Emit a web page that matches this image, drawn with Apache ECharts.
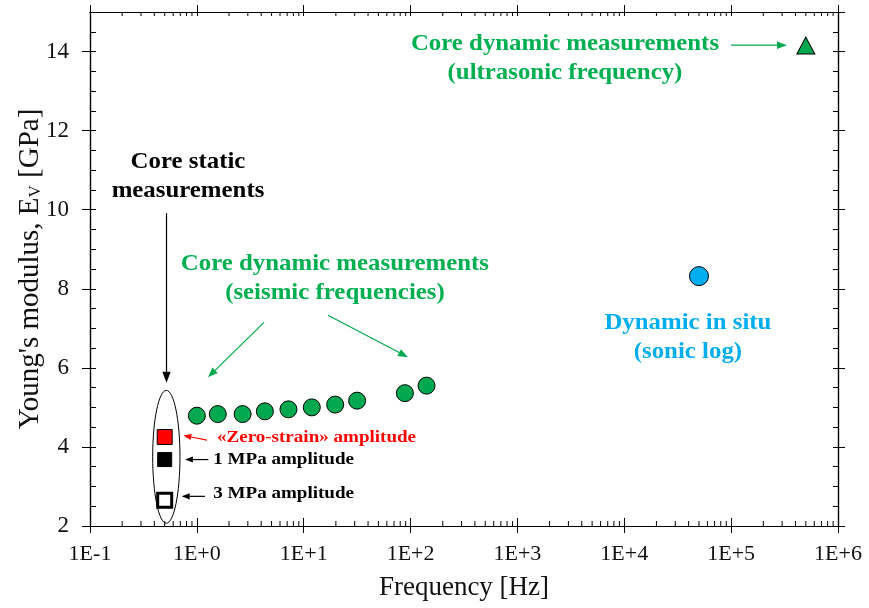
<!DOCTYPE html>
<html><head><meta charset="utf-8">
<script src="https://cdn.jsdelivr.net/npm/echarts@6/dist/echarts.min.js"></script>
<style>html,body{margin:0;padding:0;background:#fff}#c{width:869px;height:608px}</style>
</head><body><div id="c"></div>
<script>
// ---- data ----
const xTickExp = [-1, 0, 1, 2, 3, 4, 5, 6];
const xTickLabels = ['1E-1', '1E+0', '1E+1', '1E+2', '1E+3', '1E+4', '1E+5', '1E+6'];
const yTicks = [2, 4, 6, 8, 10, 12, 14];
const seismicFreq = [1.0, 1.57, 2.68, 4.33, 7.2, 11.9, 19.7, 31.6, 88.5, 141];
const seismicE = [4.79, 4.83, 4.83, 4.90, 4.95, 5.00, 5.07, 5.17, 5.36, 5.55];
const staticFreq = [0.5];
const zeroStrainE = [4.25];
const oneMPaE = [3.68];
const threeMPaE = [2.65];
const sonicFreq = [50000];
const sonicE = [8.32];
const ultraFreq = [500000];
const ultraE = [14.15];

const X_MIN = 0.1, X_MAX = 1e6, Y_MIN = 2, Y_MAX = 15;
const FONT = '"Liberation Serif","Times New Roman",serif';
const GREEN = '#00a84f', GREEN_T = '#00b050', BLUE = '#00aeef', RED = '#ff0000';

// minor tick values for log axis (2..9 per decade)
const minorX = [];
for (let e = -1; e < 6; e++) for (let m = 2; m <= 9; m++) minorX.push([m * Math.pow(10, e)]);

function zip(xs, ys) { return xs.map((x, i) => [x, ys[i]]); }
function expLabel(v) {
  const e = Math.round(Math.log10(v));
  const i = xTickExp.indexOf(e);
  return i >= 0 ? xTickLabels[i] : '';
}

const chart = echarts.init(document.getElementById('c'), null, {renderer: 'canvas'});
const axLine = {show: true, lineStyle: {color: '#000', width: 1.2}};
function xAx(pos, inside, len, labels, name) {
  return {
    type: 'log', logBase: 10, min: X_MIN, max: X_MAX, splitNumber: 7, position: pos,
    axisLine: axLine, splitLine: {show: false},
    axisTick: {show: true, inside: inside, length: len, lineStyle: {color: '#000', width: 1}},
    axisLabel: labels ? {show: true, formatter: expLabel, color: '#111', fontFamily: FONT, fontSize: 22, margin: 17} : {show: false},
    name: name || '', nameLocation: 'middle', nameGap: 48,
    nameTextStyle: {fontFamily: FONT, fontSize: 27, color: '#111'}
  };
}
function yAx(pos, inside, len, interval, labels, name) {
  return {
    type: 'value', min: Y_MIN, max: Y_MAX, interval: interval, position: pos,
    axisLine: axLine, splitLine: {show: false},
    axisTick: {show: true, inside: inside, length: len, lineStyle: {color: '#000', width: 1}},
    axisLabel: labels ? {show: true, color: '#111', fontFamily: FONT, fontSize: 23, margin: 21, showMaxLabel: false,
      formatter: v => (yTicks.indexOf(v) >= 0 ? String(v) : '')} : {show: false},
    name: name || '', nameLocation: 'middle', nameGap: 45, nameRotate: 90, nameMoveOverlap: false,
    nameTextStyle: {fontFamily: FONT, fontSize: 29, color: '#111',
      rich: {sub: {fontFamily: FONT, fontSize: 17, color: '#111', padding: [11, 0, 0, 0]}}}
  };
}

const option = {
  animation: false,
  backgroundColor: '#fff',
  grid: {left: 90, right: 31, top: 12, bottom: 82, containLabel: false, outerBoundsMode: 'none'},
  xAxis: [
    xAx('bottom', false, 7, true, 'Frequency [Hz]'),
    xAx('bottom', true, 8, false),
    xAx('top', false, 7, false),
    xAx('top', true, 4, false)
  ],
  yAxis: [
    yAx('left', false, 8, 2, true, "Young's modulus, E{sub|V} [GPa]"),
    yAx('left', true, 6, 0.5, false),
    yAx('right', false, 7, 2, false),
    yAx('right', true, 5, 0.5, false)
  ],
  series: [
    {
      type: 'custom', xAxisIndex: 0, yAxisIndex: 0, silent: true, clip: false, z: 1,
      data: minorX,
      renderItem: function (params, api) {
        const v = api.value(0);
        const b = api.coord([v, Y_MIN]);
        const t = api.coord([v, Y_MAX]);
        return {type: 'group', children: [
          {type: 'line', shape: {x1: b[0], y1: b[1], x2: b[0], y2: b[1] - 5}, style: {stroke: '#000', lineWidth: 1}},
          {type: 'line', shape: {x1: t[0], y1: t[1], x2: t[0], y2: t[1] + 4}, style: {stroke: '#000', lineWidth: 1}}
        ]};
      }
    },
    {type: 'scatter', name: 'seismic', data: zip(seismicFreq, seismicE), symbol: 'circle', symbolSize: 17,
      itemStyle: {color: GREEN, borderColor: '#000', borderWidth: 1, opacity: 1}, z: 5},
    {type: 'scatter', name: 'zero', data: zip(staticFreq, zeroStrainE), symbol: 'rect', symbolSize: 15,
      itemStyle: {color: RED, borderColor: '#000', borderWidth: 1, opacity: 1}, z: 5},
    {type: 'scatter', name: '1MPa', data: zip(staticFreq, oneMPaE), symbol: 'rect', symbolSize: 14,
      itemStyle: {color: '#000', borderColor: '#000', borderWidth: 1, borderJoin: 'round', opacity: 1}, z: 5},
    {type: 'scatter', name: '3MPa', data: zip(staticFreq, threeMPaE), symbol: 'rect', symbolSize: 14,
      itemStyle: {color: '#fff', borderColor: '#000', borderWidth: 3, opacity: 1}, z: 5},
    {type: 'scatter', name: 'sonic', data: zip(sonicFreq, sonicE), symbol: 'circle', symbolSize: 19,
      itemStyle: {color: BLUE, borderColor: '#000', borderWidth: 1, opacity: 1}, z: 5},
    {type: 'scatter', name: 'ultra', data: zip(ultraFreq, ultraE), symbol: 'triangle', symbolSize: [18, 17],
      itemStyle: {color: GREEN, borderColor: '#000', borderWidth: 1, opacity: 1}, z: 5}
  ]
};
chart.setOption(option);

// ---- annotations anchored in data coordinates ----
function P(f, e) { return chart.convertToPixel({xAxisIndex: 0, yAxisIndex: 0}, [f, e]); }
function txt(f, e, text, color, size, align, sx) {
  const p = P(f, e);
  return {type: 'text', z: 10, x: p[0], y: p[1], scaleX: sx || 1.08, silent: true,
    style: {text: text, x: 0, y: 0, fill: color, font: 'bold ' + size + 'px ' + FONT, align: align || 'center',
      verticalAlign: 'middle', lineHeight: Math.round(size * 1.26)}};
}
function arrow(f1, e1, f2, e2, color, head) {
  const a = P(f1, e1), b = P(f2, e2);
  const dx = b[0] - a[0], dy = b[1] - a[1], L = Math.sqrt(dx * dx + dy * dy);
  const ux = dx / L, uy = dy / L, hl = head || 10, hw = hl * 0.38;
  const bx = b[0] - ux * hl, by = b[1] - uy * hl;
  return [
    {type: 'line', z: 10, silent: true, shape: {x1: a[0], y1: a[1], x2: bx, y2: by}, style: {stroke: color, lineWidth: 1.2}},
    {type: 'polygon', z: 10, silent: true, shape: {points: [[b[0], b[1]], [bx - uy * hw, by + ux * hw], [bx + uy * hw, by - ux * hw]]},
      style: {fill: color}}
  ];
}
const c1 = P(0.386, 3.75), c2 = P(0.695, 3.75), t1 = P(0.515, 5.43), t2 = P(0.515, 2.07);
const graphics = [
  {type: 'ellipse', z: 3, silent: true,
    shape: {cx: (c1[0] + c2[0]) / 2, cy: (t1[1] + t2[1]) / 2, rx: (c2[0] - c1[0]) / 2, ry: (t2[1] - t1[1]) / 2},
    style: {fill: null, stroke: '#000', lineWidth: 1}},
  txt(0.826, 10.84, 'Core static\nmeasurements', '#000', 23),
  ...arrow(0.52, 9.91, 0.52, 5.62, '#000', 11),
  txt(19.6, 8.26, 'Core dynamic measurements\n(seismic frequencies)', GREEN_T, 23),
  ...arrow(4.25, 7.15, 1.27, 5.76, GREEN, 10),
  ...arrow(16.9, 7.33, 94.6, 6.27, GREEN, 10),
  txt(2786, 13.81, 'Core dynamic measurements\n(ultrasonic frequency)', GREEN_T, 23),
  ...arrow(100000, 14.16, 333000, 14.16, GREEN, 10),
  txt(39400, 6.76, 'Dynamic in situ\n(sonic log)', BLUE, 23),
  txt(1.543, 4.245, '«Zero-strain» amplitude', RED, 17, 'left', 1.12),
  ...arrow(1.244, 4.17, 0.747, 4.29, RED, 8),
  txt(1.425, 3.68, '1 MPa amplitude', '#000', 17, 'left', 1.12),
  ...arrow(1.28, 3.68, 0.774, 3.68, '#000', 8),
  txt(1.425, 2.82, '3 MPa amplitude', '#000', 17, 'left', 1.12),
  ...arrow(1.19, 2.75, 0.721, 2.75, '#000', 8)
];
chart.setOption({graphic: graphics});
</script></body></html>
